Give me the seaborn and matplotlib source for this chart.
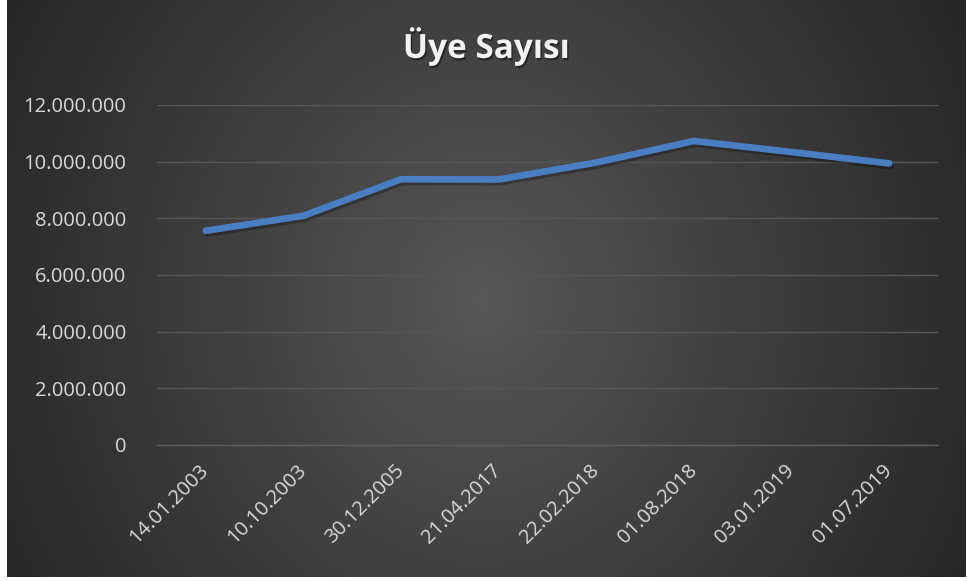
import numpy as np
import pandas as pd
import matplotlib
matplotlib.use("Agg")
import matplotlib.pyplot as plt
import matplotlib.patheffects as pe
from matplotlib.ticker import FuncFormatter, FixedLocator
import seaborn as sns

# Veriler
tarihler = ["14.01.2003", "10.10.2003", "30.12.2005", "21.04.2017",
            "22.02.2018", "01.08.2018", "03.01.2019", "01.07.2019"]
uye_sayisi = [7560000, 8090000, 9380000, 9370000,
              9970000, 10730000, 10340000, 9940000]
y_ticks = [0, 2000000, 4000000, 6000000, 8000000, 10000000, 12000000]
baslik = "Üye Sayısı"

df = pd.DataFrame({"tarih": tarihler, "uye": uye_sayisi})

sns.set_theme(style="white")
plt.rcParams["font.family"] = ["Open Sans", "DejaVu Sans"]

W, H = 967, 581
fig = plt.figure(figsize=(W / 100, H / 100), dpi=100, facecolor="white")

# Excel tarzı radyal gradyan arka plan
bg = fig.add_axes([7 / W, 4 / H, 959 / W, 577 / H], zorder=-1)
gx, gy = np.meshgrid(np.linspace(0, 959, 480), np.linspace(0, 577, 290))
d = np.sqrt(((gx - 475) / 480) ** 2 + ((gy - 300) / 540) ** 2)
shade = np.clip(0x57 - 43 * d, 0x24, 0x57) / 255.0
bg.imshow(np.dstack([shade, shade, shade]), aspect="auto", extent=[0, 1, 0, 1],
          interpolation="bilinear")
bg.set_axis_off()

ax = fig.add_axes([157 / W, (H - 445) / H, (938 - 157) / W, (445 - 105) / H])
ax.set_facecolor("none")

sns.lineplot(data=df, x="tarih", y="uye", ax=ax, sort=False, color="#4A7EC2",
             linewidth=4.8, solid_capstyle="round", solid_joinstyle="round",
             path_effects=[pe.SimpleLineShadow(offset=(1.2, -2.0), shadow_color="black", alpha=0.28),
                           pe.Normal()])

ax.set_xlim(-0.5, len(tarihler) - 0.5)
ax.set_ylim(0, 12000000)
ax.set_yticks(y_ticks)
ax.yaxis.set_major_formatter(FuncFormatter(lambda v, p: f"{int(v):,}".replace(",", ".")))
ax.grid(axis="y", color="#565656", linewidth=1.0)
ax.grid(axis="x", visible=False)
for s in ["top", "right", "left"]:
    ax.spines[s].set_visible(False)
ax.spines["bottom"].set_color("#5e5e5e")
ax.spines["bottom"].set_linewidth(1.0)

ax.set_xlabel("")
ax.set_ylabel("")
ax.tick_params(axis="y", length=0, pad=22, labelsize=14.5, labelcolor="#D9D9D9")
ax.tick_params(axis="x", which="major", length=0, pad=16, labelsize=14.5, labelcolor="#D9D9D9")
ax.xaxis.set_minor_locator(FixedLocator(np.arange(-0.5, len(tarihler), 1.0)))
ax.tick_params(axis="x", which="minor", length=6, width=1.0, color="#5e5e5e", direction="out")
for lbl in ax.get_xticklabels():
    lbl.set_rotation(45)
    lbl.set_ha("right")
    lbl.set_va("center")
    lbl.set_rotation_mode("anchor")

fig.text(0.503, 1 - 47 / H, baslik, ha="center", va="center", fontsize=24,
         fontweight="bold", color="#F2F2F2",
         path_effects=[pe.withSimplePatchShadow(offset=(1, -1.5), shadow_rgbFace="black", alpha=0.45)])

fig.savefig("out.png", dpi=100, facecolor="white")
